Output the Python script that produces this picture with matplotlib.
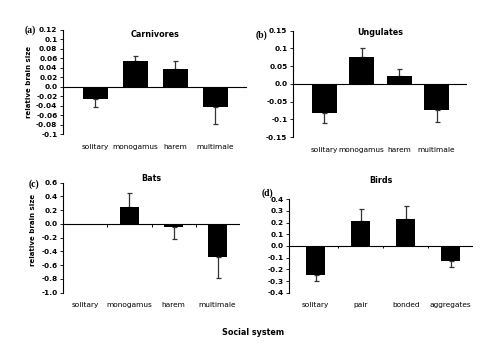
import matplotlib

matplotlib.use("Agg")
import matplotlib.pyplot as plt
import numpy as np

# ---- data ----
carn_cats = ["solitary", "monogamus", "harem", "multimale"]
carn_vals = [-0.025, 0.055, 0.038, -0.043]
carn_se = [0.018, 0.010, 0.016, 0.035]
carn_yticks = [0.12, 0.1, 0.08, 0.06, 0.04, 0.02, 0.0, -0.02, -0.04, -0.06, -0.08, -0.1]
carn_ylabels = ["0.12", "0.1", "0.08", "0.06", "0.04", "0.02", "0.0", "-0.02", "-0.04", "-0.06", "-0.08", "-0.1"]

ung_cats = ["solitary", "monogamus", "harem", "multimale"]
ung_vals = [-0.082, 0.075, 0.023, -0.073]
ung_se = [0.028, 0.025, 0.019, 0.034]
ung_yticks = [0.15, 0.1, 0.05, 0.0, -0.05, -0.1, -0.15]
ung_ylabels = ["0.15", "0.1", "0.05", "0.0", "-0.05", "-0.1", "-0.15"]

bat_cats = ["solitary", "monogamus", "harem", "multimale"]
bat_vals = [0.0, 0.25, -0.05, -0.48]
bat_se = [0.0, 0.20, 0.17, 0.31]
bat_yticks = [0.6, 0.4, 0.2, 0.0, -0.2, -0.4, -0.6, -0.8, -1.0]
bat_ylabels = ["0.6", "0.4", "0.2", "0.0", "-0.2", "-0.4", "-0.6", "-0.8", "-1.0"]

bird_cats = ["solitary", "pair", "bonded", "aggregates"]
bird_vals = [-0.25, 0.21, 0.23, -0.13]
bird_se = [0.05, 0.11, 0.115, 0.05]
bird_yticks = [0.4, 0.3, 0.2, 0.1, 0.0, -0.1, -0.2, -0.3, -0.4]
bird_ylabels = ["0.4", "0.3", "0.2", "0.1", "0.0", "-0.1", "-0.2", "-0.3", "-0.4"]

W, H = 500, 347
fig = plt.figure(figsize=(W / 100, H / 100), dpi=100)


def px_rect(x0, x1, ytop, ybot):
    return [x0 / W, 1 - ybot / H, (x1 - x0) / W, (ybot - ytop) / H]


def panel(rect, cats, vals, se, yticks, ylabels, xlim, width, title, title_y, sep_ticks):
    ax = fig.add_axes(rect)
    x = np.arange(len(cats))
    vals = np.array(vals)
    se = np.array(se)
    ax.bar(x, vals, width=width, color="black", zorder=2)
    show = se > 0
    lower = np.where(vals < 0, se, 0)
    upper = np.where(vals > 0, se, 0)
    ax.errorbar(x[show], vals[show], yerr=[lower[show], upper[show]], fmt="none",
                ecolor="#333333", elinewidth=0.9, capsize=1.8, capthick=0.9, zorder=1)
    ax.axhline(0, color="black", lw=0.8, zorder=3)
    ax.set_xlim(*xlim)
    ax.set_ylim(yticks[-1], yticks[0])
    rng = yticks[0] - yticks[-1]
    ax.vlines(sep_ticks, 0, -rng * 0.025, color="black", lw=0.7, zorder=3)
    ax.set_yticks(yticks)
    ax.set_yticklabels(ylabels, fontsize=5.3, fontweight="bold")
    ax.set_xticks(x)
    ax.set_xticklabels(cats, fontsize=5.3)
    ax.tick_params(axis="x", length=0, pad=7)
    ax.tick_params(axis="y", length=2, width=0.6, pad=2)
    for s in ("top", "right", "bottom"):
        ax.spines[s].set_visible(False)
    ax.spines["left"].set_linewidth(0.8)
    ax.set_facecolor("none")
    ax.text(0.5, title_y, title, transform=ax.transAxes, ha="center", va="center",
            fontsize=5.8, fontweight="bold")
    return ax


ax_a = panel(px_rect(63, 247, 30, 134), carn_cats, carn_vals, carn_se, carn_yticks, carn_ylabels,
             (-0.81, 3.79), 0.63, "Carnivores", 0.96, [3.79])
ax_b = panel(px_rect(293, 467, 30.7, 137), ung_cats, ung_vals, ung_se, ung_yticks, ung_ylabels,
             (-0.83, 3.81), 0.67, "Ungulates", 0.98, [3.81])
ax_c = panel(px_rect(63, 240, 182.7, 292.7), bat_cats, bat_vals, bat_se, bat_yticks, bat_ylabels,
             (-0.51, 3.51), 0.43, "Bats", 1.04, [0.5, 1.5, 2.5, 3.5])
ax_d = panel(px_rect(289.3, 473.3, 199.3, 292.7), bird_cats, bird_vals, bird_se, bird_yticks, bird_ylabels,
             (-0.59, 3.5), 0.42, "Birds", 1.2, [0.5, 1.5, 2.5, 3.5])

fig.text(29 / W, 1 - 82 / H, "relative brain size", rotation=90, ha="center", va="center",
         fontsize=5.0, fontweight="bold")
fig.text(33 / W, 1 - 230 / H, "relative brain size", rotation=90, ha="center", va="center",
         fontsize=5.0, fontweight="bold")

serif = ["Liberation Serif", "DejaVu Serif"]
fig.text(30 / W, 1 - 30 / H, "(a)", ha="center", va="center", fontsize=7, fontweight="bold", family=serif)
fig.text(262 / W, 1 - 35 / H, "(b)", ha="center", va="center", fontsize=7, fontweight="bold", family=serif)
fig.text(34 / W, 1 - 184 / H, "(c)", ha="center", va="center", fontsize=7, fontweight="bold", family=serif)
fig.text(267 / W, 1 - 192.7 / H, "(d)", ha="center", va="center", fontsize=7, fontweight="bold", family=serif)

fig.text(253 / W, 1 - 332.7 / H, "Social system", ha="center", va="center", fontsize=5.8, fontweight="bold")

fig.savefig("out.png", dpi=100)
